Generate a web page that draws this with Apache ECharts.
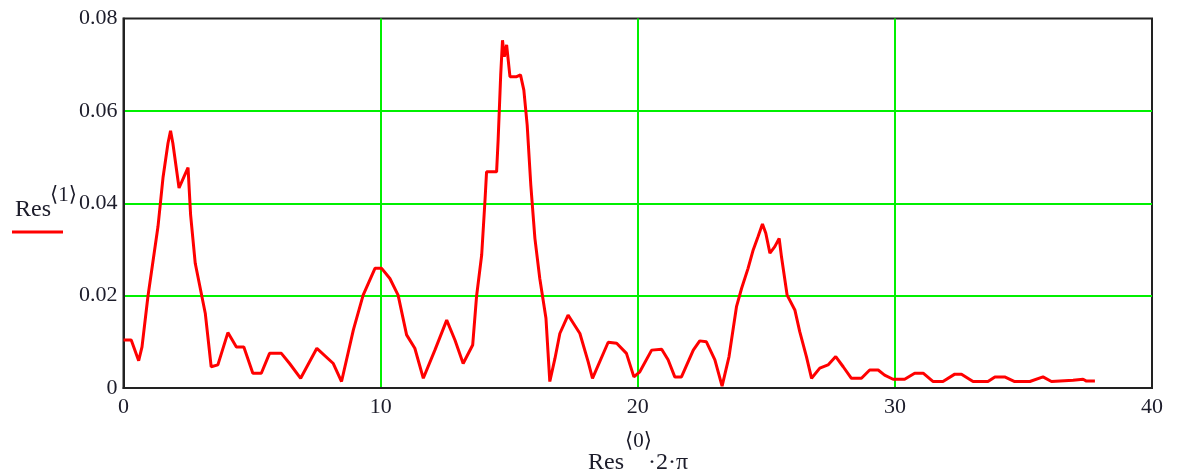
<!DOCTYPE html>
<html>
<head>
<meta charset="utf-8">
<script src="https://cdn.jsdelivr.net/npm/echarts@6/dist/echarts.min.js"></script>
<style>
html,body{margin:0;padding:0;background:#fff;}
#chart{width:1180px;height:472px;}
</style>
</head>
<body>
<div id="chart"></div>
<script>
const xValues = [0.0,0.3,0.59,0.72,0.95,1.34,1.54,1.73,1.83,1.92,2.16,2.35,2.51,2.61,2.79,3.18,3.41,3.67,4.06,4.39,4.68,5.03,5.36,5.68,6.14,6.46,6.89,7.52,8.16,8.48,8.94,9.32,9.78,10.04,10.36,10.68,11.01,11.33,11.66,12.11,12.57,12.89,13.21,13.58,13.73,13.93,14.06,14.12,14.51,14.57,14.67,14.74,14.81,14.9,15.03,15.29,15.44,15.57,15.7,15.84,16.0,16.19,16.43,16.58,16.78,16.97,17.29,17.75,18.07,18.24,18.85,19.18,19.56,19.85,20.08,20.54,20.93,21.18,21.44,21.7,22.16,22.41,22.67,23.0,23.28,23.55,23.84,24.04,24.29,24.49,24.68,24.85,24.98,25.14,25.33,25.5,25.59,25.81,26.11,26.3,26.56,26.76,27.08,27.4,27.7,27.99,28.31,28.7,29.02,29.35,29.6,29.93,30.38,30.77,31.1,31.49,31.87,32.33,32.59,33.04,33.62,33.89,34.27,34.66,35.25,35.76,36.09,36.93,37.32,37.45,37.78];
const resValues = [0.0104,0.0104,0.0059,0.0089,0.0198,0.0349,0.0457,0.053,0.0557,0.053,0.0433,0.0457,0.0477,0.0375,0.027,0.0162,0.0046,0.005,0.012,0.0089,0.0089,0.0032,0.0032,0.0075,0.0075,0.0053,0.0021,0.0086,0.0053,0.0014,0.0126,0.0201,0.0259,0.0259,0.0237,0.0201,0.0115,0.0086,0.0021,0.0082,0.0147,0.0104,0.0053,0.0093,0.0198,0.0288,0.0407,0.0468,0.0468,0.0537,0.0678,0.0753,0.0717,0.0743,0.0674,0.0674,0.0678,0.0645,0.0569,0.044,0.0324,0.0237,0.0151,0.0014,0.0064,0.0118,0.0158,0.0118,0.0057,0.0021,0.0099,0.0097,0.0075,0.0024,0.0035,0.0082,0.0084,0.0061,0.0024,0.0024,0.0082,0.0102,0.010,0.0061,0.0004,0.0068,0.0176,0.0216,0.0259,0.0299,0.0328,0.0355,0.0335,0.0292,0.0306,0.0324,0.0284,0.0201,0.0169,0.0122,0.0068,0.0021,0.0043,0.005,0.0068,0.0046,0.0021,0.0021,0.0039,0.0039,0.0028,0.0019,0.0019,0.0032,0.0032,0.0014,0.0014,0.003,0.003,0.0014,0.0014,0.0024,0.0024,0.0014,0.0014,0.0024,0.0014,0.0017,0.0019,0.0015,0.0015];
const xTicks = [0, 10, 20, 30, 40];
const yTicks = [0, 0.02, 0.04, 0.06, 0.08];

const serif = '"Liberation Serif", "DejaVu Serif", serif';
const txtColor = '#1c1c2a';
const chart = echarts.init(document.getElementById('chart'), null, {renderer: 'canvas'});
const pts = xValues.map((x, i) => [x, resValues[i]]);

chart.setOption({
  animation: false,
  backgroundColor: '#fff',
  grid: {left: 123.5, right: 28, top: 18.5, bottom: 84, show: true, borderColor: '#222', borderWidth: 2, backgroundColor: 'transparent'},
  xAxis: {
    type: 'value', min: xTicks[0], max: xTicks[xTicks.length - 1], interval: 10,
    axisLine: {show: true, lineStyle: {color: '#222', width: 2}},
    axisTick: {show: false},
    axisLabel: {color: txtColor, fontFamily: serif, fontSize: 22, margin: 8, formatter: v => String(v)},
    splitLine: {show: true, showMinLine: false, showMaxLine: false, lineStyle: {color: '#00f000', width: 2}}
  },
  yAxis: {
    type: 'value', min: yTicks[0], max: yTicks[yTicks.length - 1], interval: 0.02,
    axisLine: {show: true, lineStyle: {color: '#222', width: 2}},
    axisTick: {show: false},
    axisLabel: {color: txtColor, fontFamily: serif, fontSize: 22, margin: 6, formatter: v => v === 0 ? '0' : v.toFixed(2)},
    splitLine: {show: true, showMinLine: false, showMaxLine: false, lineStyle: {color: '#00f000', width: 2}}
  },
  series: [{
    type: 'line', data: pts, showSymbol: false, symbol: 'none',
    lineStyle: {color: '#ff0000', width: 3}, z: 3
  }],
  graphic: [
    {type: 'text', left: 15, top: 198, style: {text: 'Res', font: '24px ' + serif, fill: txtColor}},
    {type: 'text', left: 50, top: 185, style: {text: '\u27E81\u27E9', font: '21px ' + serif, fill: txtColor}},
    {type: 'line', shape: {x1: 12, y1: 232, x2: 63, y2: 232}, style: {stroke: '#ff0000', lineWidth: 3}},
    {type: 'text', left: 588, top: 451, style: {text: 'Res', font: '24px ' + serif, fill: txtColor}},
    {type: 'text', left: 625, top: 431, style: {text: '\u27E80\u27E9', font: '21px ' + serif, fill: txtColor}},
    {type: 'text', left: 648, top: 451, style: {text: '\u00B72\u00B7\u03C0', font: '24px ' + serif, fill: txtColor}}
  ]
});
</script>
</body>
</html>
